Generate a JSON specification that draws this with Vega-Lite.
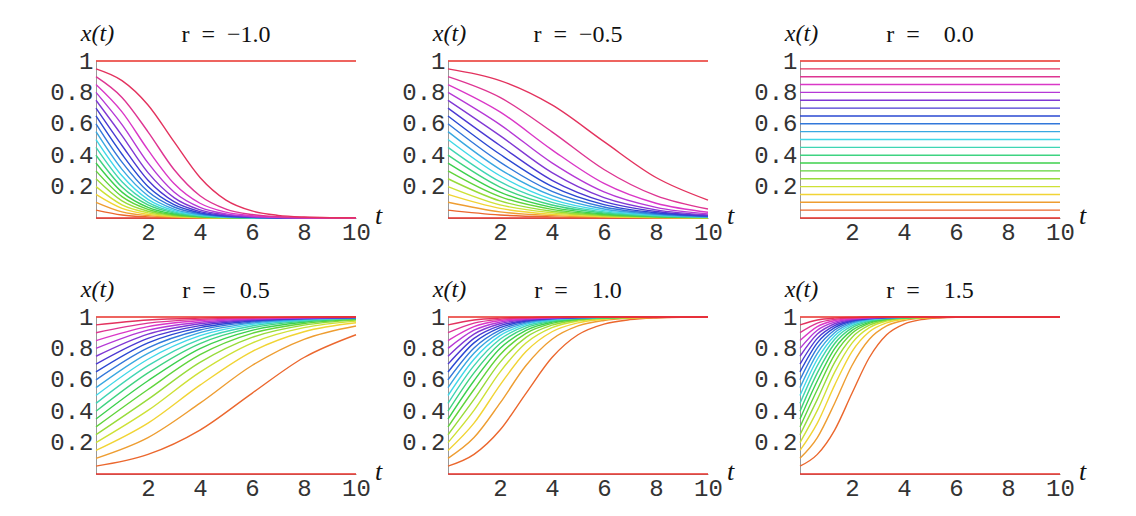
{
"$schema":"https://vega.github.io/schema/vega-lite/v6.json",
"background":"white",
"padding":{"left":49,"top":21,"right":5,"bottom":5},
"data":{"values":[
{"r":-1,"c":0,"t":0,"x":0},{"r":-1,"c":0,"t":10,"x":0},
{"r":-1,"c":0.05,"t":0,"x":0.05},{"r":-1,"c":0.05,"t":1,"x":0.019},{"r":-1,"c":0.05,"t":2,"x":0.007},{"r":-1,"c":0.05,"t":3,"x":0.003},{"r":-1,"c":0.05,"t":4,"x":0.001},{"r":-1,"c":0.05,"t":5,"x":0},{"r":-1,"c":0.05,"t":10,"x":0},
{"r":-1,"c":0.1,"t":0,"x":0.1},{"r":-1,"c":0.1,"t":1,"x":0.039},{"r":-1,"c":0.1,"t":2,"x":0.015},{"r":-1,"c":0.1,"t":3,"x":0.006},{"r":-1,"c":0.1,"t":4,"x":0.002},{"r":-1,"c":0.1,"t":5,"x":0.001},{"r":-1,"c":0.1,"t":6,"x":0},{"r":-1,"c":0.1,"t":10,"x":0},
{"r":-1,"c":0.15,"t":0,"x":0.15},{"r":-1,"c":0.15,"t":1,"x":0.061},{"r":-1,"c":0.15,"t":2,"x":0.023},{"r":-1,"c":0.15,"t":3,"x":0.009},{"r":-1,"c":0.15,"t":4,"x":0.003},{"r":-1,"c":0.15,"t":5,"x":0.001},{"r":-1,"c":0.15,"t":6,"x":0},{"r":-1,"c":0.15,"t":10,"x":0},
{"r":-1,"c":0.2,"t":0,"x":0.2},{"r":-1,"c":0.2,"t":1,"x":0.084},{"r":-1,"c":0.2,"t":2,"x":0.033},{"r":-1,"c":0.2,"t":3,"x":0.012},{"r":-1,"c":0.2,"t":4,"x":0.005},{"r":-1,"c":0.2,"t":5,"x":0.002},{"r":-1,"c":0.2,"t":6,"x":0.001},{"r":-1,"c":0.2,"t":7,"x":0},{"r":-1,"c":0.2,"t":10,"x":0},
{"r":-1,"c":0.25,"t":0,"x":0.25},{"r":-1,"c":0.25,"t":1,"x":0.109},{"r":-1,"c":0.25,"t":2,"x":0.043},{"r":-1,"c":0.25,"t":3,"x":0.016},{"r":-1,"c":0.25,"t":4,"x":0.006},{"r":-1,"c":0.25,"t":5,"x":0.002},{"r":-1,"c":0.25,"t":6,"x":0.001},{"r":-1,"c":0.25,"t":7,"x":0},{"r":-1,"c":0.25,"t":10,"x":0},
{"r":-1,"c":0.3,"t":0,"x":0.3},{"r":-1,"c":0.3,"t":1,"x":0.136},{"r":-1,"c":0.3,"t":2,"x":0.055},{"r":-1,"c":0.3,"t":3,"x":0.021},{"r":-1,"c":0.3,"t":4,"x":0.008},{"r":-1,"c":0.3,"t":5,"x":0.003},{"r":-1,"c":0.3,"t":6,"x":0.001},{"r":-1,"c":0.3,"t":7,"x":0},{"r":-1,"c":0.3,"t":10,"x":0},
{"r":-1,"c":0.35,"t":0,"x":0.35},{"r":-1,"c":0.35,"t":1,"x":0.165},{"r":-1,"c":0.35,"t":2,"x":0.068},{"r":-1,"c":0.35,"t":3,"x":0.026},{"r":-1,"c":0.35,"t":4,"x":0.01},{"r":-1,"c":0.35,"t":5,"x":0.004},{"r":-1,"c":0.35,"t":6,"x":0.001},{"r":-1,"c":0.35,"t":7,"x":0},{"r":-1,"c":0.35,"t":10,"x":0},
{"r":-1,"c":0.4,"t":0,"x":0.4},{"r":-1,"c":0.4,"t":1,"x":0.197},{"r":-1,"c":0.4,"t":2,"x":0.083},{"r":-1,"c":0.4,"t":3,"x":0.032},{"r":-1,"c":0.4,"t":4,"x":0.012},{"r":-1,"c":0.4,"t":5,"x":0.004},{"r":-1,"c":0.4,"t":6,"x":0.002},{"r":-1,"c":0.4,"t":7,"x":0.001},{"r":-1,"c":0.4,"t":8,"x":0},{"r":-1,"c":0.4,"t":10,"x":0},
{"r":-1,"c":0.45,"t":0,"x":0.45},{"r":-1,"c":0.45,"t":1,"x":0.231},{"r":-1,"c":0.45,"t":2,"x":0.1},{"r":-1,"c":0.45,"t":3,"x":0.039},{"r":-1,"c":0.45,"t":4,"x":0.015},{"r":-1,"c":0.45,"t":5,"x":0.005},{"r":-1,"c":0.45,"t":6,"x":0.002},{"r":-1,"c":0.45,"t":7,"x":0.001},{"r":-1,"c":0.45,"t":8,"x":0},{"r":-1,"c":0.45,"t":10,"x":0},
{"r":-1,"c":0.5,"t":0,"x":0.5},{"r":-1,"c":0.5,"t":1,"x":0.269},{"r":-1,"c":0.5,"t":2,"x":0.119},{"r":-1,"c":0.5,"t":3,"x":0.047},{"r":-1,"c":0.5,"t":4,"x":0.018},{"r":-1,"c":0.5,"t":5,"x":0.007},{"r":-1,"c":0.5,"t":6,"x":0.002},{"r":-1,"c":0.5,"t":7,"x":0.001},{"r":-1,"c":0.5,"t":8,"x":0},{"r":-1,"c":0.5,"t":10,"x":0},
{"r":-1,"c":0.55,"t":0,"x":0.55},{"r":-1,"c":0.55,"t":1,"x":0.31},{"r":-1,"c":0.55,"t":2,"x":0.142},{"r":-1,"c":0.55,"t":3,"x":0.057},{"r":-1,"c":0.55,"t":4,"x":0.022},{"r":-1,"c":0.55,"t":5,"x":0.008},{"r":-1,"c":0.55,"t":6,"x":0.003},{"r":-1,"c":0.55,"t":7,"x":0.001},{"r":-1,"c":0.55,"t":8,"x":0},{"r":-1,"c":0.55,"t":10,"x":0},
{"r":-1,"c":0.6,"t":0,"x":0.6},{"r":-1,"c":0.6,"t":1,"x":0.356},{"r":-1,"c":0.6,"t":2,"x":0.169},{"r":-1,"c":0.6,"t":3,"x":0.07},{"r":-1,"c":0.6,"t":4,"x":0.027},{"r":-1,"c":0.6,"t":5,"x":0.01},{"r":-1,"c":0.6,"t":6,"x":0.004},{"r":-1,"c":0.6,"t":7,"x":0.001},{"r":-1,"c":0.6,"t":8,"x":0.001},{"r":-1,"c":0.6,"t":9,"x":0},{"r":-1,"c":0.6,"t":10,"x":0},
{"r":-1,"c":0.65,"t":0,"x":0.65},{"r":-1,"c":0.65,"t":1,"x":0.406},{"r":-1,"c":0.65,"t":2,"x":0.201},{"r":-1,"c":0.65,"t":3,"x":0.085},{"r":-1,"c":0.65,"t":4,"x":0.033},{"r":-1,"c":0.65,"t":5,"x":0.012},{"r":-1,"c":0.65,"t":6,"x":0.005},{"r":-1,"c":0.65,"t":7,"x":0.002},{"r":-1,"c":0.65,"t":8,"x":0.001},{"r":-1,"c":0.65,"t":9,"x":0},{"r":-1,"c":0.65,"t":10,"x":0},
{"r":-1,"c":0.7,"t":0,"x":0.7},{"r":-1,"c":0.7,"t":1,"x":0.462},{"r":-1,"c":0.7,"t":2,"x":0.24},{"r":-1,"c":0.7,"t":3,"x":0.104},{"r":-1,"c":0.7,"t":4,"x":0.041},{"r":-1,"c":0.7,"t":5,"x":0.015},{"r":-1,"c":0.7,"t":6,"x":0.006},{"r":-1,"c":0.7,"t":7,"x":0.002},{"r":-1,"c":0.7,"t":8,"x":0.001},{"r":-1,"c":0.7,"t":9,"x":0},{"r":-1,"c":0.7,"t":10,"x":0},
{"r":-1,"c":0.75,"t":0,"x":0.75},{"r":-1,"c":0.75,"t":1,"x":0.525},{"r":-1,"c":0.75,"t":2,"x":0.289},{"r":-1,"c":0.75,"t":3,"x":0.13},{"r":-1,"c":0.75,"t":4,"x":0.052},{"r":-1,"c":0.75,"t":5,"x":0.02},{"r":-1,"c":0.75,"t":6,"x":0.007},{"r":-1,"c":0.75,"t":7,"x":0.003},{"r":-1,"c":0.75,"t":8,"x":0.001},{"r":-1,"c":0.75,"t":9,"x":0},{"r":-1,"c":0.75,"t":10,"x":0},
{"r":-1,"c":0.8,"t":0,"x":0.8},{"r":-1,"c":0.8,"t":1,"x":0.595},{"r":-1,"c":0.8,"t":2,"x":0.351},{"r":-1,"c":0.8,"t":3,"x":0.166},{"r":-1,"c":0.8,"t":4,"x":0.068},{"r":-1,"c":0.8,"t":5,"x":0.026},{"r":-1,"c":0.8,"t":6,"x":0.01},{"r":-1,"c":0.8,"t":7,"x":0.004},{"r":-1,"c":0.8,"t":8,"x":0.001},{"r":-1,"c":0.8,"t":9,"x":0},{"r":-1,"c":0.8,"t":10,"x":0},
{"r":-1,"c":0.85,"t":0,"x":0.85},{"r":-1,"c":0.85,"t":1,"x":0.676},{"r":-1,"c":0.85,"t":2,"x":0.434},{"r":-1,"c":0.85,"t":3,"x":0.22},{"r":-1,"c":0.85,"t":4,"x":0.094},{"r":-1,"c":0.85,"t":5,"x":0.037},{"r":-1,"c":0.85,"t":6,"x":0.014},{"r":-1,"c":0.85,"t":7,"x":0.005},{"r":-1,"c":0.85,"t":8,"x":0.002},{"r":-1,"c":0.85,"t":9,"x":0.001},{"r":-1,"c":0.85,"t":10,"x":0},
{"r":-1,"c":0.9,"t":0,"x":0.9},{"r":-1,"c":0.9,"t":1,"x":0.768},{"r":-1,"c":0.9,"t":2,"x":0.549},{"r":-1,"c":0.9,"t":3,"x":0.309},{"r":-1,"c":0.9,"t":4,"x":0.142},{"r":-1,"c":0.9,"t":5,"x":0.057},{"r":-1,"c":0.9,"t":6,"x":0.022},{"r":-1,"c":0.9,"t":7,"x":0.008},{"r":-1,"c":0.9,"t":8,"x":0.003},{"r":-1,"c":0.9,"t":9,"x":0.001},{"r":-1,"c":0.9,"t":10,"x":0},
{"r":-1,"c":0.95,"t":0,"x":0.95},{"r":-1,"c":0.95,"t":1,"x":0.875},{"r":-1,"c":0.95,"t":2,"x":0.72},{"r":-1,"c":0.95,"t":3,"x":0.486},{"r":-1,"c":0.95,"t":4,"x":0.258},{"r":-1,"c":0.95,"t":5,"x":0.114},{"r":-1,"c":0.95,"t":6,"x":0.045},{"r":-1,"c":0.95,"t":7,"x":0.017},{"r":-1,"c":0.95,"t":8,"x":0.006},{"r":-1,"c":0.95,"t":9,"x":0.002},{"r":-1,"c":0.95,"t":10,"x":0.001},
{"r":-1,"c":1,"t":0,"x":1},{"r":-1,"c":1,"t":10,"x":1},

{"r":-0.5,"c":0,"t":0,"x":0},{"r":-0.5,"c":0,"t":10,"x":0},
{"r":-0.5,"c":0.05,"t":0,"x":0.05},{"r":-0.5,"c":0.05,"t":2,"x":0.019},{"r":-0.5,"c":0.05,"t":4,"x":0.007},{"r":-0.5,"c":0.05,"t":6,"x":0.003},{"r":-0.5,"c":0.05,"t":8,"x":0.001},{"r":-0.5,"c":0.05,"t":10,"x":0},
{"r":-0.5,"c":0.1,"t":0,"x":0.1},{"r":-0.5,"c":0.1,"t":2,"x":0.039},{"r":-0.5,"c":0.1,"t":4,"x":0.015},{"r":-0.5,"c":0.1,"t":6,"x":0.006},{"r":-0.5,"c":0.1,"t":8,"x":0.002},{"r":-0.5,"c":0.1,"t":10,"x":0.001},
{"r":-0.5,"c":0.15,"t":0,"x":0.15},{"r":-0.5,"c":0.15,"t":2,"x":0.061},{"r":-0.5,"c":0.15,"t":4,"x":0.023},{"r":-0.5,"c":0.15,"t":6,"x":0.009},{"r":-0.5,"c":0.15,"t":8,"x":0.003},{"r":-0.5,"c":0.15,"t":10,"x":0.001},
{"r":-0.5,"c":0.2,"t":0,"x":0.2},{"r":-0.5,"c":0.2,"t":2,"x":0.084},{"r":-0.5,"c":0.2,"t":4,"x":0.033},{"r":-0.5,"c":0.2,"t":6,"x":0.012},{"r":-0.5,"c":0.2,"t":8,"x":0.005},{"r":-0.5,"c":0.2,"t":10,"x":0.002},
{"r":-0.5,"c":0.25,"t":0,"x":0.25},{"r":-0.5,"c":0.25,"t":2,"x":0.109},{"r":-0.5,"c":0.25,"t":4,"x":0.043},{"r":-0.5,"c":0.25,"t":6,"x":0.016},{"r":-0.5,"c":0.25,"t":8,"x":0.006},{"r":-0.5,"c":0.25,"t":10,"x":0.002},
{"r":-0.5,"c":0.3,"t":0,"x":0.3},{"r":-0.5,"c":0.3,"t":2,"x":0.136},{"r":-0.5,"c":0.3,"t":4,"x":0.055},{"r":-0.5,"c":0.3,"t":6,"x":0.021},{"r":-0.5,"c":0.3,"t":8,"x":0.008},{"r":-0.5,"c":0.3,"t":10,"x":0.003},
{"r":-0.5,"c":0.35,"t":0,"x":0.35},{"r":-0.5,"c":0.35,"t":2,"x":0.165},{"r":-0.5,"c":0.35,"t":4,"x":0.068},{"r":-0.5,"c":0.35,"t":6,"x":0.026},{"r":-0.5,"c":0.35,"t":8,"x":0.01},{"r":-0.5,"c":0.35,"t":10,"x":0.004},
{"r":-0.5,"c":0.4,"t":0,"x":0.4},{"r":-0.5,"c":0.4,"t":2,"x":0.197},{"r":-0.5,"c":0.4,"t":4,"x":0.083},{"r":-0.5,"c":0.4,"t":6,"x":0.032},{"r":-0.5,"c":0.4,"t":8,"x":0.012},{"r":-0.5,"c":0.4,"t":10,"x":0.004},
{"r":-0.5,"c":0.45,"t":0,"x":0.45},{"r":-0.5,"c":0.45,"t":2,"x":0.231},{"r":-0.5,"c":0.45,"t":4,"x":0.1},{"r":-0.5,"c":0.45,"t":6,"x":0.039},{"r":-0.5,"c":0.45,"t":8,"x":0.015},{"r":-0.5,"c":0.45,"t":10,"x":0.005},
{"r":-0.5,"c":0.5,"t":0,"x":0.5},{"r":-0.5,"c":0.5,"t":2,"x":0.269},{"r":-0.5,"c":0.5,"t":4,"x":0.119},{"r":-0.5,"c":0.5,"t":6,"x":0.047},{"r":-0.5,"c":0.5,"t":8,"x":0.018},{"r":-0.5,"c":0.5,"t":10,"x":0.007},
{"r":-0.5,"c":0.55,"t":0,"x":0.55},{"r":-0.5,"c":0.55,"t":2,"x":0.31},{"r":-0.5,"c":0.55,"t":4,"x":0.142},{"r":-0.5,"c":0.55,"t":6,"x":0.057},{"r":-0.5,"c":0.55,"t":8,"x":0.022},{"r":-0.5,"c":0.55,"t":10,"x":0.008},
{"r":-0.5,"c":0.6,"t":0,"x":0.6},{"r":-0.5,"c":0.6,"t":2,"x":0.356},{"r":-0.5,"c":0.6,"t":4,"x":0.169},{"r":-0.5,"c":0.6,"t":6,"x":0.07},{"r":-0.5,"c":0.6,"t":8,"x":0.027},{"r":-0.5,"c":0.6,"t":10,"x":0.01},
{"r":-0.5,"c":0.65,"t":0,"x":0.65},{"r":-0.5,"c":0.65,"t":2,"x":0.406},{"r":-0.5,"c":0.65,"t":4,"x":0.201},{"r":-0.5,"c":0.65,"t":6,"x":0.085},{"r":-0.5,"c":0.65,"t":8,"x":0.033},{"r":-0.5,"c":0.65,"t":10,"x":0.012},
{"r":-0.5,"c":0.7,"t":0,"x":0.7},{"r":-0.5,"c":0.7,"t":2,"x":0.462},{"r":-0.5,"c":0.7,"t":4,"x":0.24},{"r":-0.5,"c":0.7,"t":6,"x":0.104},{"r":-0.5,"c":0.7,"t":8,"x":0.041},{"r":-0.5,"c":0.7,"t":10,"x":0.015},
{"r":-0.5,"c":0.75,"t":0,"x":0.75},{"r":-0.5,"c":0.75,"t":2,"x":0.525},{"r":-0.5,"c":0.75,"t":4,"x":0.289},{"r":-0.5,"c":0.75,"t":6,"x":0.13},{"r":-0.5,"c":0.75,"t":8,"x":0.052},{"r":-0.5,"c":0.75,"t":10,"x":0.02},
{"r":-0.5,"c":0.8,"t":0,"x":0.8},{"r":-0.5,"c":0.8,"t":2,"x":0.595},{"r":-0.5,"c":0.8,"t":4,"x":0.351},{"r":-0.5,"c":0.8,"t":6,"x":0.166},{"r":-0.5,"c":0.8,"t":8,"x":0.068},{"r":-0.5,"c":0.8,"t":10,"x":0.026},
{"r":-0.5,"c":0.85,"t":0,"x":0.85},{"r":-0.5,"c":0.85,"t":2,"x":0.676},{"r":-0.5,"c":0.85,"t":4,"x":0.434},{"r":-0.5,"c":0.85,"t":6,"x":0.22},{"r":-0.5,"c":0.85,"t":8,"x":0.094},{"r":-0.5,"c":0.85,"t":10,"x":0.037},
{"r":-0.5,"c":0.9,"t":0,"x":0.9},{"r":-0.5,"c":0.9,"t":2,"x":0.768},{"r":-0.5,"c":0.9,"t":4,"x":0.549},{"r":-0.5,"c":0.9,"t":6,"x":0.309},{"r":-0.5,"c":0.9,"t":8,"x":0.142},{"r":-0.5,"c":0.9,"t":10,"x":0.057},
{"r":-0.5,"c":0.95,"t":0,"x":0.95},{"r":-0.5,"c":0.95,"t":2,"x":0.875},{"r":-0.5,"c":0.95,"t":4,"x":0.72},{"r":-0.5,"c":0.95,"t":6,"x":0.486},{"r":-0.5,"c":0.95,"t":8,"x":0.258},{"r":-0.5,"c":0.95,"t":10,"x":0.114},
{"r":-0.5,"c":1,"t":0,"x":1},{"r":-0.5,"c":1,"t":10,"x":1},

{"r":0,"c":0,"t":0,"x":0},{"r":0,"c":0,"t":10,"x":0},
{"r":0,"c":0.05,"t":0,"x":0.05},{"r":0,"c":0.05,"t":10,"x":0.05},
{"r":0,"c":0.1,"t":0,"x":0.1},{"r":0,"c":0.1,"t":10,"x":0.1},
{"r":0,"c":0.15,"t":0,"x":0.15},{"r":0,"c":0.15,"t":10,"x":0.15},
{"r":0,"c":0.2,"t":0,"x":0.2},{"r":0,"c":0.2,"t":10,"x":0.2},
{"r":0,"c":0.25,"t":0,"x":0.25},{"r":0,"c":0.25,"t":10,"x":0.25},
{"r":0,"c":0.3,"t":0,"x":0.3},{"r":0,"c":0.3,"t":10,"x":0.3},
{"r":0,"c":0.35,"t":0,"x":0.35},{"r":0,"c":0.35,"t":10,"x":0.35},
{"r":0,"c":0.4,"t":0,"x":0.4},{"r":0,"c":0.4,"t":10,"x":0.4},
{"r":0,"c":0.45,"t":0,"x":0.45},{"r":0,"c":0.45,"t":10,"x":0.45},
{"r":0,"c":0.5,"t":0,"x":0.5},{"r":0,"c":0.5,"t":10,"x":0.5},
{"r":0,"c":0.55,"t":0,"x":0.55},{"r":0,"c":0.55,"t":10,"x":0.55},
{"r":0,"c":0.6,"t":0,"x":0.6},{"r":0,"c":0.6,"t":10,"x":0.6},
{"r":0,"c":0.65,"t":0,"x":0.65},{"r":0,"c":0.65,"t":10,"x":0.65},
{"r":0,"c":0.7,"t":0,"x":0.7},{"r":0,"c":0.7,"t":10,"x":0.7},
{"r":0,"c":0.75,"t":0,"x":0.75},{"r":0,"c":0.75,"t":10,"x":0.75},
{"r":0,"c":0.8,"t":0,"x":0.8},{"r":0,"c":0.8,"t":10,"x":0.8},
{"r":0,"c":0.85,"t":0,"x":0.85},{"r":0,"c":0.85,"t":10,"x":0.85},
{"r":0,"c":0.9,"t":0,"x":0.9},{"r":0,"c":0.9,"t":10,"x":0.9},
{"r":0,"c":0.95,"t":0,"x":0.95},{"r":0,"c":0.95,"t":10,"x":0.95},
{"r":0,"c":1,"t":0,"x":1},{"r":0,"c":1,"t":10,"x":1},

{"r":0.5,"c":0,"t":0,"x":0},{"r":0.5,"c":0,"t":10,"x":0},
{"r":0.5,"c":0.05,"t":0,"x":0.05},{"r":0.5,"c":0.05,"t":2,"x":0.125},{"r":0.5,"c":0.05,"t":4,"x":0.28},{"r":0.5,"c":0.05,"t":6,"x":0.514},{"r":0.5,"c":0.05,"t":8,"x":0.742},{"r":0.5,"c":0.05,"t":10,"x":0.887},
{"r":0.5,"c":0.1,"t":0,"x":0.1},{"r":0.5,"c":0.1,"t":2,"x":0.232},{"r":0.5,"c":0.1,"t":4,"x":0.451},{"r":0.5,"c":0.1,"t":6,"x":0.691},{"r":0.5,"c":0.1,"t":8,"x":0.858},{"r":0.5,"c":0.1,"t":10,"x":0.943},
{"r":0.5,"c":0.15,"t":0,"x":0.15},{"r":0.5,"c":0.15,"t":2,"x":0.324},{"r":0.5,"c":0.15,"t":4,"x":0.566},{"r":0.5,"c":0.15,"t":6,"x":0.78},{"r":0.5,"c":0.15,"t":8,"x":0.906},{"r":0.5,"c":0.15,"t":10,"x":0.963},
{"r":0.5,"c":0.2,"t":0,"x":0.2},{"r":0.5,"c":0.2,"t":2,"x":0.405},{"r":0.5,"c":0.2,"t":4,"x":0.649},{"r":0.5,"c":0.2,"t":6,"x":0.834},{"r":0.5,"c":0.2,"t":8,"x":0.932},{"r":0.5,"c":0.2,"t":10,"x":0.974},
{"r":0.5,"c":0.25,"t":0,"x":0.25},{"r":0.5,"c":0.25,"t":2,"x":0.475},{"r":0.5,"c":0.25,"t":4,"x":0.711},{"r":0.5,"c":0.25,"t":6,"x":0.87},{"r":0.5,"c":0.25,"t":8,"x":0.948},{"r":0.5,"c":0.25,"t":10,"x":0.98},
{"r":0.5,"c":0.3,"t":0,"x":0.3},{"r":0.5,"c":0.3,"t":2,"x":0.538},{"r":0.5,"c":0.3,"t":4,"x":0.76},{"r":0.5,"c":0.3,"t":6,"x":0.896},{"r":0.5,"c":0.3,"t":8,"x":0.959},{"r":0.5,"c":0.3,"t":10,"x":0.985},
{"r":0.5,"c":0.35,"t":0,"x":0.35},{"r":0.5,"c":0.35,"t":2,"x":0.594},{"r":0.5,"c":0.35,"t":4,"x":0.799},{"r":0.5,"c":0.35,"t":6,"x":0.915},{"r":0.5,"c":0.35,"t":8,"x":0.967},{"r":0.5,"c":0.35,"t":10,"x":0.988},
{"r":0.5,"c":0.4,"t":0,"x":0.4},{"r":0.5,"c":0.4,"t":2,"x":0.644},{"r":0.5,"c":0.4,"t":4,"x":0.831},{"r":0.5,"c":0.4,"t":6,"x":0.931},{"r":0.5,"c":0.4,"t":8,"x":0.973},{"r":0.5,"c":0.4,"t":10,"x":0.99},
{"r":0.5,"c":0.45,"t":0,"x":0.45},{"r":0.5,"c":0.45,"t":2,"x":0.69},{"r":0.5,"c":0.45,"t":4,"x":0.858},{"r":0.5,"c":0.45,"t":6,"x":0.943},{"r":0.5,"c":0.45,"t":8,"x":0.978},{"r":0.5,"c":0.45,"t":10,"x":0.992},
{"r":0.5,"c":0.5,"t":0,"x":0.5},{"r":0.5,"c":0.5,"t":2,"x":0.731},{"r":0.5,"c":0.5,"t":4,"x":0.881},{"r":0.5,"c":0.5,"t":6,"x":0.953},{"r":0.5,"c":0.5,"t":8,"x":0.982},{"r":0.5,"c":0.5,"t":10,"x":0.993},
{"r":0.5,"c":0.55,"t":0,"x":0.55},{"r":0.5,"c":0.55,"t":2,"x":0.769},{"r":0.5,"c":0.55,"t":4,"x":0.9},{"r":0.5,"c":0.55,"t":6,"x":0.961},{"r":0.5,"c":0.55,"t":8,"x":0.985},{"r":0.5,"c":0.55,"t":10,"x":0.995},
{"r":0.5,"c":0.6,"t":0,"x":0.6},{"r":0.5,"c":0.6,"t":2,"x":0.803},{"r":0.5,"c":0.6,"t":4,"x":0.917},{"r":0.5,"c":0.6,"t":6,"x":0.968},{"r":0.5,"c":0.6,"t":8,"x":0.988},{"r":0.5,"c":0.6,"t":10,"x":0.996},
{"r":0.5,"c":0.65,"t":0,"x":0.65},{"r":0.5,"c":0.65,"t":2,"x":0.835},{"r":0.5,"c":0.65,"t":4,"x":0.932},{"r":0.5,"c":0.65,"t":6,"x":0.974},{"r":0.5,"c":0.65,"t":8,"x":0.99},{"r":0.5,"c":0.65,"t":10,"x":0.996},
{"r":0.5,"c":0.7,"t":0,"x":0.7},{"r":0.5,"c":0.7,"t":2,"x":0.864},{"r":0.5,"c":0.7,"t":4,"x":0.945},{"r":0.5,"c":0.7,"t":6,"x":0.979},{"r":0.5,"c":0.7,"t":8,"x":0.992},{"r":0.5,"c":0.7,"t":10,"x":0.997},
{"r":0.5,"c":0.75,"t":0,"x":0.75},{"r":0.5,"c":0.75,"t":2,"x":0.891},{"r":0.5,"c":0.75,"t":4,"x":0.957},{"r":0.5,"c":0.75,"t":6,"x":0.984},{"r":0.5,"c":0.75,"t":8,"x":0.994},{"r":0.5,"c":0.75,"t":10,"x":0.998},
{"r":0.5,"c":0.8,"t":0,"x":0.8},{"r":0.5,"c":0.8,"t":2,"x":0.916},{"r":0.5,"c":0.8,"t":4,"x":0.967},{"r":0.5,"c":0.8,"t":6,"x":0.988},{"r":0.5,"c":0.8,"t":8,"x":0.995},{"r":0.5,"c":0.8,"t":10,"x":0.998},
{"r":0.5,"c":0.85,"t":0,"x":0.85},{"r":0.5,"c":0.85,"t":2,"x":0.939},{"r":0.5,"c":0.85,"t":4,"x":0.977},{"r":0.5,"c":0.85,"t":6,"x":0.991},{"r":0.5,"c":0.85,"t":8,"x":0.997},{"r":0.5,"c":0.85,"t":10,"x":0.999},
{"r":0.5,"c":0.9,"t":0,"x":0.9},{"r":0.5,"c":0.9,"t":2,"x":0.961},{"r":0.5,"c":0.9,"t":4,"x":0.985},{"r":0.5,"c":0.9,"t":6,"x":0.994},{"r":0.5,"c":0.9,"t":8,"x":0.998},{"r":0.5,"c":0.9,"t":10,"x":0.999},
{"r":0.5,"c":0.95,"t":0,"x":0.95},{"r":0.5,"c":0.95,"t":2,"x":0.981},{"r":0.5,"c":0.95,"t":4,"x":0.993},{"r":0.5,"c":0.95,"t":6,"x":0.997},{"r":0.5,"c":0.95,"t":8,"x":0.999},{"r":0.5,"c":0.95,"t":10,"x":1},
{"r":0.5,"c":1,"t":0,"x":1},{"r":0.5,"c":1,"t":10,"x":1},

{"r":1,"c":0,"t":0,"x":0},{"r":1,"c":0,"t":10,"x":0},
{"r":1,"c":0.05,"t":0,"x":0.05},{"r":1,"c":0.05,"t":1,"x":0.125},{"r":1,"c":0.05,"t":2,"x":0.28},{"r":1,"c":0.05,"t":3,"x":0.514},{"r":1,"c":0.05,"t":4,"x":0.742},{"r":1,"c":0.05,"t":5,"x":0.887},{"r":1,"c":0.05,"t":6,"x":0.955},{"r":1,"c":0.05,"t":7,"x":0.983},{"r":1,"c":0.05,"t":8,"x":0.994},{"r":1,"c":0.05,"t":9,"x":0.998},{"r":1,"c":0.05,"t":10,"x":0.999},
{"r":1,"c":0.1,"t":0,"x":0.1},{"r":1,"c":0.1,"t":1,"x":0.232},{"r":1,"c":0.1,"t":2,"x":0.451},{"r":1,"c":0.1,"t":3,"x":0.691},{"r":1,"c":0.1,"t":4,"x":0.858},{"r":1,"c":0.1,"t":5,"x":0.943},{"r":1,"c":0.1,"t":6,"x":0.978},{"r":1,"c":0.1,"t":7,"x":0.992},{"r":1,"c":0.1,"t":8,"x":0.997},{"r":1,"c":0.1,"t":9,"x":0.999},{"r":1,"c":0.1,"t":10,"x":1},
{"r":1,"c":0.15,"t":0,"x":0.15},{"r":1,"c":0.15,"t":1,"x":0.324},{"r":1,"c":0.15,"t":2,"x":0.566},{"r":1,"c":0.15,"t":3,"x":0.78},{"r":1,"c":0.15,"t":4,"x":0.906},{"r":1,"c":0.15,"t":5,"x":0.963},{"r":1,"c":0.15,"t":6,"x":0.986},{"r":1,"c":0.15,"t":7,"x":0.995},{"r":1,"c":0.15,"t":8,"x":0.998},{"r":1,"c":0.15,"t":9,"x":0.999},{"r":1,"c":0.15,"t":10,"x":1},
{"r":1,"c":0.2,"t":0,"x":0.2},{"r":1,"c":0.2,"t":1,"x":0.405},{"r":1,"c":0.2,"t":2,"x":0.649},{"r":1,"c":0.2,"t":3,"x":0.834},{"r":1,"c":0.2,"t":4,"x":0.932},{"r":1,"c":0.2,"t":5,"x":0.974},{"r":1,"c":0.2,"t":6,"x":0.99},{"r":1,"c":0.2,"t":7,"x":0.996},{"r":1,"c":0.2,"t":8,"x":0.999},{"r":1,"c":0.2,"t":9,"x":1},{"r":1,"c":0.2,"t":10,"x":1},
{"r":1,"c":0.25,"t":0,"x":0.25},{"r":1,"c":0.25,"t":1,"x":0.475},{"r":1,"c":0.25,"t":2,"x":0.711},{"r":1,"c":0.25,"t":3,"x":0.87},{"r":1,"c":0.25,"t":4,"x":0.948},{"r":1,"c":0.25,"t":5,"x":0.98},{"r":1,"c":0.25,"t":6,"x":0.993},{"r":1,"c":0.25,"t":7,"x":0.997},{"r":1,"c":0.25,"t":8,"x":0.999},{"r":1,"c":0.25,"t":9,"x":1},{"r":1,"c":0.25,"t":10,"x":1},
{"r":1,"c":0.3,"t":0,"x":0.3},{"r":1,"c":0.3,"t":1,"x":0.538},{"r":1,"c":0.3,"t":2,"x":0.76},{"r":1,"c":0.3,"t":3,"x":0.896},{"r":1,"c":0.3,"t":4,"x":0.959},{"r":1,"c":0.3,"t":5,"x":0.985},{"r":1,"c":0.3,"t":6,"x":0.994},{"r":1,"c":0.3,"t":7,"x":0.998},{"r":1,"c":0.3,"t":8,"x":0.999},{"r":1,"c":0.3,"t":9,"x":1},{"r":1,"c":0.3,"t":10,"x":1},
{"r":1,"c":0.35,"t":0,"x":0.35},{"r":1,"c":0.35,"t":1,"x":0.594},{"r":1,"c":0.35,"t":2,"x":0.799},{"r":1,"c":0.35,"t":3,"x":0.915},{"r":1,"c":0.35,"t":4,"x":0.967},{"r":1,"c":0.35,"t":5,"x":0.988},{"r":1,"c":0.35,"t":6,"x":0.995},{"r":1,"c":0.35,"t":7,"x":0.998},{"r":1,"c":0.35,"t":8,"x":0.999},{"r":1,"c":0.35,"t":9,"x":1},{"r":1,"c":0.35,"t":10,"x":1},
{"r":1,"c":0.4,"t":0,"x":0.4},{"r":1,"c":0.4,"t":1,"x":0.644},{"r":1,"c":0.4,"t":2,"x":0.831},{"r":1,"c":0.4,"t":3,"x":0.931},{"r":1,"c":0.4,"t":4,"x":0.973},{"r":1,"c":0.4,"t":5,"x":0.99},{"r":1,"c":0.4,"t":6,"x":0.996},{"r":1,"c":0.4,"t":7,"x":0.999},{"r":1,"c":0.4,"t":8,"x":1},{"r":1,"c":0.4,"t":10,"x":1},
{"r":1,"c":0.45,"t":0,"x":0.45},{"r":1,"c":0.45,"t":1,"x":0.69},{"r":1,"c":0.45,"t":2,"x":0.858},{"r":1,"c":0.45,"t":3,"x":0.943},{"r":1,"c":0.45,"t":4,"x":0.978},{"r":1,"c":0.45,"t":5,"x":0.992},{"r":1,"c":0.45,"t":6,"x":0.997},{"r":1,"c":0.45,"t":7,"x":0.999},{"r":1,"c":0.45,"t":8,"x":1},{"r":1,"c":0.45,"t":10,"x":1},
{"r":1,"c":0.5,"t":0,"x":0.5},{"r":1,"c":0.5,"t":1,"x":0.731},{"r":1,"c":0.5,"t":2,"x":0.881},{"r":1,"c":0.5,"t":3,"x":0.953},{"r":1,"c":0.5,"t":4,"x":0.982},{"r":1,"c":0.5,"t":5,"x":0.993},{"r":1,"c":0.5,"t":6,"x":0.998},{"r":1,"c":0.5,"t":7,"x":0.999},{"r":1,"c":0.5,"t":8,"x":1},{"r":1,"c":0.5,"t":10,"x":1},
{"r":1,"c":0.55,"t":0,"x":0.55},{"r":1,"c":0.55,"t":1,"x":0.769},{"r":1,"c":0.55,"t":2,"x":0.9},{"r":1,"c":0.55,"t":3,"x":0.961},{"r":1,"c":0.55,"t":4,"x":0.985},{"r":1,"c":0.55,"t":5,"x":0.995},{"r":1,"c":0.55,"t":6,"x":0.998},{"r":1,"c":0.55,"t":7,"x":0.999},{"r":1,"c":0.55,"t":8,"x":1},{"r":1,"c":0.55,"t":10,"x":1},
{"r":1,"c":0.6,"t":0,"x":0.6},{"r":1,"c":0.6,"t":1,"x":0.803},{"r":1,"c":0.6,"t":2,"x":0.917},{"r":1,"c":0.6,"t":3,"x":0.968},{"r":1,"c":0.6,"t":4,"x":0.988},{"r":1,"c":0.6,"t":5,"x":0.996},{"r":1,"c":0.6,"t":6,"x":0.998},{"r":1,"c":0.6,"t":7,"x":0.999},{"r":1,"c":0.6,"t":8,"x":1},{"r":1,"c":0.6,"t":10,"x":1},
{"r":1,"c":0.65,"t":0,"x":0.65},{"r":1,"c":0.65,"t":1,"x":0.835},{"r":1,"c":0.65,"t":2,"x":0.932},{"r":1,"c":0.65,"t":3,"x":0.974},{"r":1,"c":0.65,"t":4,"x":0.99},{"r":1,"c":0.65,"t":5,"x":0.996},{"r":1,"c":0.65,"t":6,"x":0.999},{"r":1,"c":0.65,"t":7,"x":1},{"r":1,"c":0.65,"t":10,"x":1},
{"r":1,"c":0.7,"t":0,"x":0.7},{"r":1,"c":0.7,"t":1,"x":0.864},{"r":1,"c":0.7,"t":2,"x":0.945},{"r":1,"c":0.7,"t":3,"x":0.979},{"r":1,"c":0.7,"t":4,"x":0.992},{"r":1,"c":0.7,"t":5,"x":0.997},{"r":1,"c":0.7,"t":6,"x":0.999},{"r":1,"c":0.7,"t":7,"x":1},{"r":1,"c":0.7,"t":10,"x":1},
{"r":1,"c":0.75,"t":0,"x":0.75},{"r":1,"c":0.75,"t":1,"x":0.891},{"r":1,"c":0.75,"t":2,"x":0.957},{"r":1,"c":0.75,"t":3,"x":0.984},{"r":1,"c":0.75,"t":4,"x":0.994},{"r":1,"c":0.75,"t":5,"x":0.998},{"r":1,"c":0.75,"t":6,"x":0.999},{"r":1,"c":0.75,"t":7,"x":1},{"r":1,"c":0.75,"t":10,"x":1},
{"r":1,"c":0.8,"t":0,"x":0.8},{"r":1,"c":0.8,"t":1,"x":0.916},{"r":1,"c":0.8,"t":2,"x":0.967},{"r":1,"c":0.8,"t":3,"x":0.988},{"r":1,"c":0.8,"t":4,"x":0.995},{"r":1,"c":0.8,"t":5,"x":0.998},{"r":1,"c":0.8,"t":6,"x":0.999},{"r":1,"c":0.8,"t":7,"x":1},{"r":1,"c":0.8,"t":10,"x":1},
{"r":1,"c":0.85,"t":0,"x":0.85},{"r":1,"c":0.85,"t":1,"x":0.939},{"r":1,"c":0.85,"t":2,"x":0.977},{"r":1,"c":0.85,"t":3,"x":0.991},{"r":1,"c":0.85,"t":4,"x":0.997},{"r":1,"c":0.85,"t":5,"x":0.999},{"r":1,"c":0.85,"t":6,"x":1},{"r":1,"c":0.85,"t":10,"x":1},
{"r":1,"c":0.9,"t":0,"x":0.9},{"r":1,"c":0.9,"t":1,"x":0.961},{"r":1,"c":0.9,"t":2,"x":0.985},{"r":1,"c":0.9,"t":3,"x":0.994},{"r":1,"c":0.9,"t":4,"x":0.998},{"r":1,"c":0.9,"t":5,"x":0.999},{"r":1,"c":0.9,"t":6,"x":1},{"r":1,"c":0.9,"t":10,"x":1},
{"r":1,"c":0.95,"t":0,"x":0.95},{"r":1,"c":0.95,"t":1,"x":0.981},{"r":1,"c":0.95,"t":2,"x":0.993},{"r":1,"c":0.95,"t":3,"x":0.997},{"r":1,"c":0.95,"t":4,"x":0.999},{"r":1,"c":0.95,"t":5,"x":1},{"r":1,"c":0.95,"t":10,"x":1},
{"r":1,"c":1,"t":0,"x":1},{"r":1,"c":1,"t":10,"x":1},

{"r":1.5,"c":0,"t":0,"x":0},{"r":1.5,"c":0,"t":10,"x":0},
{"r":1.5,"c":0.05,"t":0,"x":0.05},{"r":1.5,"c":0.05,"t":0.667,"x":0.125},{"r":1.5,"c":0.05,"t":1.333,"x":0.28},{"r":1.5,"c":0.05,"t":2,"x":0.514},{"r":1.5,"c":0.05,"t":2.667,"x":0.742},{"r":1.5,"c":0.05,"t":3.333,"x":0.887},{"r":1.5,"c":0.05,"t":4,"x":0.955},{"r":1.5,"c":0.05,"t":4.667,"x":0.983},{"r":1.5,"c":0.05,"t":5.333,"x":0.994},{"r":1.5,"c":0.05,"t":6,"x":0.998},{"r":1.5,"c":0.05,"t":10,"x":1},
{"r":1.5,"c":0.1,"t":0,"x":0.1},{"r":1.5,"c":0.1,"t":0.667,"x":0.232},{"r":1.5,"c":0.1,"t":1.333,"x":0.451},{"r":1.5,"c":0.1,"t":2,"x":0.691},{"r":1.5,"c":0.1,"t":2.667,"x":0.858},{"r":1.5,"c":0.1,"t":3.333,"x":0.943},{"r":1.5,"c":0.1,"t":4,"x":0.978},{"r":1.5,"c":0.1,"t":4.667,"x":0.992},{"r":1.5,"c":0.1,"t":5.333,"x":0.997},{"r":1.5,"c":0.1,"t":6,"x":0.999},{"r":1.5,"c":0.1,"t":10,"x":1},
{"r":1.5,"c":0.15,"t":0,"x":0.15},{"r":1.5,"c":0.15,"t":0.667,"x":0.324},{"r":1.5,"c":0.15,"t":1.333,"x":0.566},{"r":1.5,"c":0.15,"t":2,"x":0.78},{"r":1.5,"c":0.15,"t":2.667,"x":0.906},{"r":1.5,"c":0.15,"t":3.333,"x":0.963},{"r":1.5,"c":0.15,"t":4,"x":0.986},{"r":1.5,"c":0.15,"t":4.667,"x":0.995},{"r":1.5,"c":0.15,"t":5.333,"x":0.998},{"r":1.5,"c":0.15,"t":6,"x":0.999},{"r":1.5,"c":0.15,"t":10,"x":1},
{"r":1.5,"c":0.2,"t":0,"x":0.2},{"r":1.5,"c":0.2,"t":0.667,"x":0.405},{"r":1.5,"c":0.2,"t":1.333,"x":0.649},{"r":1.5,"c":0.2,"t":2,"x":0.834},{"r":1.5,"c":0.2,"t":2.667,"x":0.932},{"r":1.5,"c":0.2,"t":3.333,"x":0.974},{"r":1.5,"c":0.2,"t":4,"x":0.99},{"r":1.5,"c":0.2,"t":4.667,"x":0.996},{"r":1.5,"c":0.2,"t":5.333,"x":0.999},{"r":1.5,"c":0.2,"t":6,"x":1},{"r":1.5,"c":0.2,"t":10,"x":1},
{"r":1.5,"c":0.25,"t":0,"x":0.25},{"r":1.5,"c":0.25,"t":0.667,"x":0.475},{"r":1.5,"c":0.25,"t":1.333,"x":0.711},{"r":1.5,"c":0.25,"t":2,"x":0.87},{"r":1.5,"c":0.25,"t":2.667,"x":0.948},{"r":1.5,"c":0.25,"t":3.333,"x":0.98},{"r":1.5,"c":0.25,"t":4,"x":0.993},{"r":1.5,"c":0.25,"t":4.667,"x":0.997},{"r":1.5,"c":0.25,"t":5.333,"x":0.999},{"r":1.5,"c":0.25,"t":6,"x":1},{"r":1.5,"c":0.25,"t":10,"x":1},
{"r":1.5,"c":0.3,"t":0,"x":0.3},{"r":1.5,"c":0.3,"t":0.667,"x":0.538},{"r":1.5,"c":0.3,"t":1.333,"x":0.76},{"r":1.5,"c":0.3,"t":2,"x":0.896},{"r":1.5,"c":0.3,"t":2.667,"x":0.959},{"r":1.5,"c":0.3,"t":3.333,"x":0.985},{"r":1.5,"c":0.3,"t":4,"x":0.994},{"r":1.5,"c":0.3,"t":4.667,"x":0.998},{"r":1.5,"c":0.3,"t":5.333,"x":0.999},{"r":1.5,"c":0.3,"t":6,"x":1},{"r":1.5,"c":0.3,"t":10,"x":1},
{"r":1.5,"c":0.35,"t":0,"x":0.35},{"r":1.5,"c":0.35,"t":0.667,"x":0.594},{"r":1.5,"c":0.35,"t":1.333,"x":0.799},{"r":1.5,"c":0.35,"t":2,"x":0.915},{"r":1.5,"c":0.35,"t":2.667,"x":0.967},{"r":1.5,"c":0.35,"t":3.333,"x":0.988},{"r":1.5,"c":0.35,"t":4,"x":0.995},{"r":1.5,"c":0.35,"t":4.667,"x":0.998},{"r":1.5,"c":0.35,"t":5.333,"x":0.999},{"r":1.5,"c":0.35,"t":6,"x":1},{"r":1.5,"c":0.35,"t":10,"x":1},
{"r":1.5,"c":0.4,"t":0,"x":0.4},{"r":1.5,"c":0.4,"t":0.667,"x":0.644},{"r":1.5,"c":0.4,"t":1.333,"x":0.831},{"r":1.5,"c":0.4,"t":2,"x":0.931},{"r":1.5,"c":0.4,"t":2.667,"x":0.973},{"r":1.5,"c":0.4,"t":3.333,"x":0.99},{"r":1.5,"c":0.4,"t":4,"x":0.996},{"r":1.5,"c":0.4,"t":4.667,"x":0.999},{"r":1.5,"c":0.4,"t":5.333,"x":1},{"r":1.5,"c":0.4,"t":10,"x":1},
{"r":1.5,"c":0.45,"t":0,"x":0.45},{"r":1.5,"c":0.45,"t":0.667,"x":0.69},{"r":1.5,"c":0.45,"t":1.333,"x":0.858},{"r":1.5,"c":0.45,"t":2,"x":0.943},{"r":1.5,"c":0.45,"t":2.667,"x":0.978},{"r":1.5,"c":0.45,"t":3.333,"x":0.992},{"r":1.5,"c":0.45,"t":4,"x":0.997},{"r":1.5,"c":0.45,"t":4.667,"x":0.999},{"r":1.5,"c":0.45,"t":5.333,"x":1},{"r":1.5,"c":0.45,"t":10,"x":1},
{"r":1.5,"c":0.5,"t":0,"x":0.5},{"r":1.5,"c":0.5,"t":0.667,"x":0.731},{"r":1.5,"c":0.5,"t":1.333,"x":0.881},{"r":1.5,"c":0.5,"t":2,"x":0.953},{"r":1.5,"c":0.5,"t":2.667,"x":0.982},{"r":1.5,"c":0.5,"t":3.333,"x":0.993},{"r":1.5,"c":0.5,"t":4,"x":0.998},{"r":1.5,"c":0.5,"t":4.667,"x":0.999},{"r":1.5,"c":0.5,"t":5.333,"x":1},{"r":1.5,"c":0.5,"t":10,"x":1},
{"r":1.5,"c":0.55,"t":0,"x":0.55},{"r":1.5,"c":0.55,"t":0.667,"x":0.769},{"r":1.5,"c":0.55,"t":1.333,"x":0.9},{"r":1.5,"c":0.55,"t":2,"x":0.961},{"r":1.5,"c":0.55,"t":2.667,"x":0.985},{"r":1.5,"c":0.55,"t":3.333,"x":0.995},{"r":1.5,"c":0.55,"t":4,"x":0.998},{"r":1.5,"c":0.55,"t":4.667,"x":0.999},{"r":1.5,"c":0.55,"t":5.333,"x":1},{"r":1.5,"c":0.55,"t":10,"x":1},
{"r":1.5,"c":0.6,"t":0,"x":0.6},{"r":1.5,"c":0.6,"t":0.667,"x":0.803},{"r":1.5,"c":0.6,"t":1.333,"x":0.917},{"r":1.5,"c":0.6,"t":2,"x":0.968},{"r":1.5,"c":0.6,"t":2.667,"x":0.988},{"r":1.5,"c":0.6,"t":3.333,"x":0.996},{"r":1.5,"c":0.6,"t":4,"x":0.998},{"r":1.5,"c":0.6,"t":4.667,"x":0.999},{"r":1.5,"c":0.6,"t":5.333,"x":1},{"r":1.5,"c":0.6,"t":10,"x":1},
{"r":1.5,"c":0.65,"t":0,"x":0.65},{"r":1.5,"c":0.65,"t":0.667,"x":0.835},{"r":1.5,"c":0.65,"t":1.333,"x":0.932},{"r":1.5,"c":0.65,"t":2,"x":0.974},{"r":1.5,"c":0.65,"t":2.667,"x":0.99},{"r":1.5,"c":0.65,"t":3.333,"x":0.996},{"r":1.5,"c":0.65,"t":4,"x":0.999},{"r":1.5,"c":0.65,"t":4.667,"x":1},{"r":1.5,"c":0.65,"t":10,"x":1},
{"r":1.5,"c":0.7,"t":0,"x":0.7},{"r":1.5,"c":0.7,"t":0.667,"x":0.864},{"r":1.5,"c":0.7,"t":1.333,"x":0.945},{"r":1.5,"c":0.7,"t":2,"x":0.979},{"r":1.5,"c":0.7,"t":2.667,"x":0.992},{"r":1.5,"c":0.7,"t":3.333,"x":0.997},{"r":1.5,"c":0.7,"t":4,"x":0.999},{"r":1.5,"c":0.7,"t":4.667,"x":1},{"r":1.5,"c":0.7,"t":10,"x":1},
{"r":1.5,"c":0.75,"t":0,"x":0.75},{"r":1.5,"c":0.75,"t":0.667,"x":0.891},{"r":1.5,"c":0.75,"t":1.333,"x":0.957},{"r":1.5,"c":0.75,"t":2,"x":0.984},{"r":1.5,"c":0.75,"t":2.667,"x":0.994},{"r":1.5,"c":0.75,"t":3.333,"x":0.998},{"r":1.5,"c":0.75,"t":4,"x":0.999},{"r":1.5,"c":0.75,"t":4.667,"x":1},{"r":1.5,"c":0.75,"t":10,"x":1},
{"r":1.5,"c":0.8,"t":0,"x":0.8},{"r":1.5,"c":0.8,"t":0.667,"x":0.916},{"r":1.5,"c":0.8,"t":1.333,"x":0.967},{"r":1.5,"c":0.8,"t":2,"x":0.988},{"r":1.5,"c":0.8,"t":2.667,"x":0.995},{"r":1.5,"c":0.8,"t":3.333,"x":0.998},{"r":1.5,"c":0.8,"t":4,"x":0.999},{"r":1.5,"c":0.8,"t":4.667,"x":1},{"r":1.5,"c":0.8,"t":10,"x":1},
{"r":1.5,"c":0.85,"t":0,"x":0.85},{"r":1.5,"c":0.85,"t":0.667,"x":0.939},{"r":1.5,"c":0.85,"t":1.333,"x":0.977},{"r":1.5,"c":0.85,"t":2,"x":0.991},{"r":1.5,"c":0.85,"t":2.667,"x":0.997},{"r":1.5,"c":0.85,"t":3.333,"x":0.999},{"r":1.5,"c":0.85,"t":4,"x":1},{"r":1.5,"c":0.85,"t":10,"x":1},
{"r":1.5,"c":0.9,"t":0,"x":0.9},{"r":1.5,"c":0.9,"t":0.667,"x":0.961},{"r":1.5,"c":0.9,"t":1.333,"x":0.985},{"r":1.5,"c":0.9,"t":2,"x":0.994},{"r":1.5,"c":0.9,"t":2.667,"x":0.998},{"r":1.5,"c":0.9,"t":3.333,"x":0.999},{"r":1.5,"c":0.9,"t":4,"x":1},{"r":1.5,"c":0.9,"t":10,"x":1},
{"r":1.5,"c":0.95,"t":0,"x":0.95},{"r":1.5,"c":0.95,"t":0.667,"x":0.981},{"r":1.5,"c":0.95,"t":1.333,"x":0.993},{"r":1.5,"c":0.95,"t":2,"x":0.997},{"r":1.5,"c":0.95,"t":2.667,"x":0.999},{"r":1.5,"c":0.95,"t":3.333,"x":1},{"r":1.5,"c":0.95,"t":10,"x":1},
{"r":1.5,"c":1,"t":0,"x":1},{"r":1.5,"c":1,"t":10,"x":1}
]},
"facet":{"field":"r","type":"ordinal","header":{"title":null,"labelExpr":"'r\u2002=\u2002' + (datum.value < 0 ? '−' : '\u2002') + format(abs(datum.value), '.1f')","labelFont":"Liberation Serif","labelFontSize":24,"labelColor":"#111","labelPadding":-26}},
"columns":3,
"spacing":{"column":92,"row":99},
"bounds":"flush",
"resolve":{"axis":{"x":"independent","y":"independent"}},
"spec":{
"width":260,"height":157,
"mark":{"type":"line","interpolate":"monotone","strokeWidth":1.4,"clip":false},
"encoding":{
"x":{"field":"t","type":"quantitative","scale":{"domain":[0,10],"nice":false,"zero":false},
"axis":{"values":[2,4,6,8,10],"title":"t","titleX":282,"titleY":5,"titleAlign":"center","titleBaseline":"alphabetic","titleFont":"Liberation Serif","titleFontStyle":"italic","titleFontWeight":"normal","titleFontSize":26,"titleColor":"#111","grid":false,"ticks":false,"domainColor":"#999","labelFont":"Liberation Mono","labelFontSize":24,"labelColor":"#333","labelPadding":2,"labelFlush":false,"labelOverlap":false}},
"y":{"field":"x","type":"quantitative","scale":{"domain":[0,1],"nice":false,"zero":false},
"axis":{"values":[0.2,0.4,0.6,0.8,1],"labelExpr":"datum.value == 1 ? '1' : format(datum.value, '.1f')","title":"x(t)","titleAngle":0,"titleX":1,"titleY":-21,"titleAlign":"center","titleBaseline":"alphabetic","titleFont":"Liberation Serif","titleFontStyle":"italic","titleFontWeight":"normal","titleFontSize":24,"titleColor":"#111","grid":false,"ticks":false,"domainColor":"#999","labelFont":"Liberation Mono","labelFontSize":24,"labelColor":"#333","labelPadding":3,"labelFlush":false,"labelOverlap":false}},
"color":{"field":"c","type":"quantitative","scale":{"domain":[0,0.1667,0.3333,0.5,0.6667,0.8333,1],"range":["#e8302a","#f2e635","#3ccf3c","#40d8e8","#2838d0","#d838d8","#e8302a"],"interpolate":"rgb"},"legend":null},
"detail":{"field":"c","type":"nominal"}
}
},
"config":{"view":{"stroke":null}}
}
